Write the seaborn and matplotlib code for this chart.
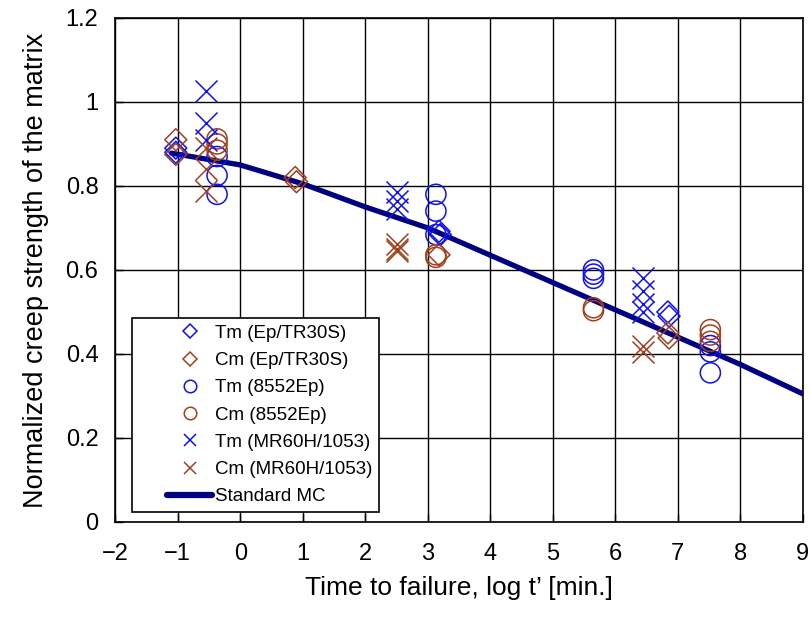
import numpy as np
import pandas as pd
import matplotlib
matplotlib.use("Agg")
import matplotlib.pyplot as plt
from matplotlib.lines import Line2D
from matplotlib.legend_handler import HandlerLine2D
import seaborn as sns

# --- data ---
ep_tm_x = [-1.03, -1.03, 3.18, 3.20, 6.84, 6.86]
ep_tm_y = [0.89, 0.88, 0.692, 0.684, 0.50, 0.49]
ep_cm_x = [-1.03, -1.03, 0.88, 0.90, 3.18, 6.84, 6.86]
ep_cm_y = [0.91, 0.875, 0.82, 0.81, 0.636, 0.45, 0.438]

ep8552_tm_x = [-0.37, -0.37, -0.37, 3.13, 3.13, 3.13, 5.65, 5.65, 5.65, 7.52, 7.52, 7.52]
ep8552_tm_y = [0.87, 0.825, 0.78, 0.78, 0.74, 0.684, 0.60, 0.59, 0.58, 0.42, 0.405, 0.355]
ep8552_cm_x = [-0.37, -0.37, -0.37, 3.13, 3.13, 5.65, 5.65, 7.52, 7.52, 7.52]
ep8552_cm_y = [0.912, 0.90, 0.885, 0.636, 0.63, 0.51, 0.503, 0.458, 0.445, 0.43]

mr_tm_x = [-0.55, -0.55, -0.55, 2.51, 2.51, 2.51, 6.45, 6.45, 6.45, 6.45]
mr_tm_y = [1.025, 0.95, 0.91, 0.785, 0.765, 0.745, 0.58, 0.55, 0.52, 0.50]
mr_cm_x = [-0.55, -0.55, -0.55, 2.51, 2.51, 2.51, 6.45, 6.45]
mr_cm_y = [0.89, 0.84, 0.787, 0.662, 0.65, 0.645, 0.42, 0.405]

mc_x = [-1.1, 0, 1, 2, 3, 4, 5, 6, 7, 8, 9]
mc_y = [0.878, 0.85, 0.805, 0.75, 0.70, 0.635, 0.57, 0.505, 0.44, 0.375, 0.305]

labels = ["Tm (Ep/TR30S)", "Cm (Ep/TR30S)", "Tm (8552Ep)", "Cm (8552Ep)",
          "Tm (MR60H/1053)", "Cm (MR60H/1053)"]

blue = "#1010F5"
brown = "#A0401E"
navy = "#000080"

series = [
    (ep_tm_x, ep_tm_y, "D", blue),
    (ep_cm_x, ep_cm_y, "D", brown),
    (ep8552_tm_x, ep8552_tm_y, "o", blue),
    (ep8552_cm_x, ep8552_cm_y, "o", brown),
    (mr_tm_x, mr_tm_y, "x", blue),
    (mr_cm_x, mr_cm_y, "x", brown),
]

sns.set_style("white")
plt.rcParams["font.family"] = ["Liberation Sans", "DejaVu Sans"]
plt.rcParams["text.color"] = "black"
plt.rcParams["axes.labelcolor"] = "black"

fig = plt.figure(figsize=(8.11, 6.17), dpi=100)
ax = fig.add_axes([0.142, 0.154, 0.848, 0.817])

sns.lineplot(x=mc_x, y=mc_y, ax=ax, color=navy, linewidth=3.8, zorder=3)

for (xs, ys, m, c) in series:
    if m == "x":
        sns.scatterplot(x=xs, y=ys, ax=ax, marker="x", color=c, s=250,
                        linewidth=1.1, zorder=4)
    elif m == "D":
        sns.scatterplot(x=xs, y=ys, ax=ax, marker="D", facecolor="none",
                        edgecolor=c, s=125, linewidth=1.1, zorder=4)
    else:
        sns.scatterplot(x=xs, y=ys, ax=ax, marker="o", facecolor="none",
                        edgecolor=c, s=210, linewidth=1.1, zorder=4)

ax.set_xlim(-2, 9)
ax.set_ylim(0, 1.2)
ax.set_xticks(range(-2, 10))
ax.set_yticks([0, 0.2, 0.4, 0.6, 0.8, 1.0, 1.2])
ax.set_yticklabels(["0", "0.2", "0.4", "0.6", "0.8", "1", "1.2"])
ax.grid(True, color="black", linewidth=1.0)
ax.set_axisbelow(True)
for sp in ax.spines.values():
    sp.set_color("black")
    sp.set_linewidth(1.2)
ax.tick_params(direction="in", length=6, width=1, labelsize=17,
               bottom=True, left=True, colors="black")
ax.tick_params(axis="x", pad=15)
ax.tick_params(axis="y", pad=12)

ax.set_xlabel("Time to failure, log t\u2019 [min.]", fontsize=19, labelpad=8)
ax.set_ylabel("Normalized creep strength of the matrix", fontsize=19.5, labelpad=12)

handles = []
for (xs, ys, m, c), lab in zip(series, labels):
    handles.append(Line2D([], [], linestyle="none", marker=m,
                          markerfacecolor="none", markeredgecolor=c,
                          markersize=9 if m != "D" else 7, markeredgewidth=1.1,
                          label=lab))
handles.append(Line2D([], [], color=navy, linewidth=4.5, label="Standard MC"))

leg = ax.legend(handles=handles, loc="lower left", bbox_to_anchor=(0.025, 0.02),
                borderaxespad=0, fontsize=13.5, frameon=True, fancybox=False,
                edgecolor="black", handlelength=3.9, labelspacing=0.54,
                borderpad=0.35, handletextpad=0.15,
                handler_map={Line2D: HandlerLine2D(xpad=1.5)})
leg.get_frame().set_linewidth(1.2)
leg.get_frame().set_alpha(1)

fig.savefig("out.png", dpi=100)
